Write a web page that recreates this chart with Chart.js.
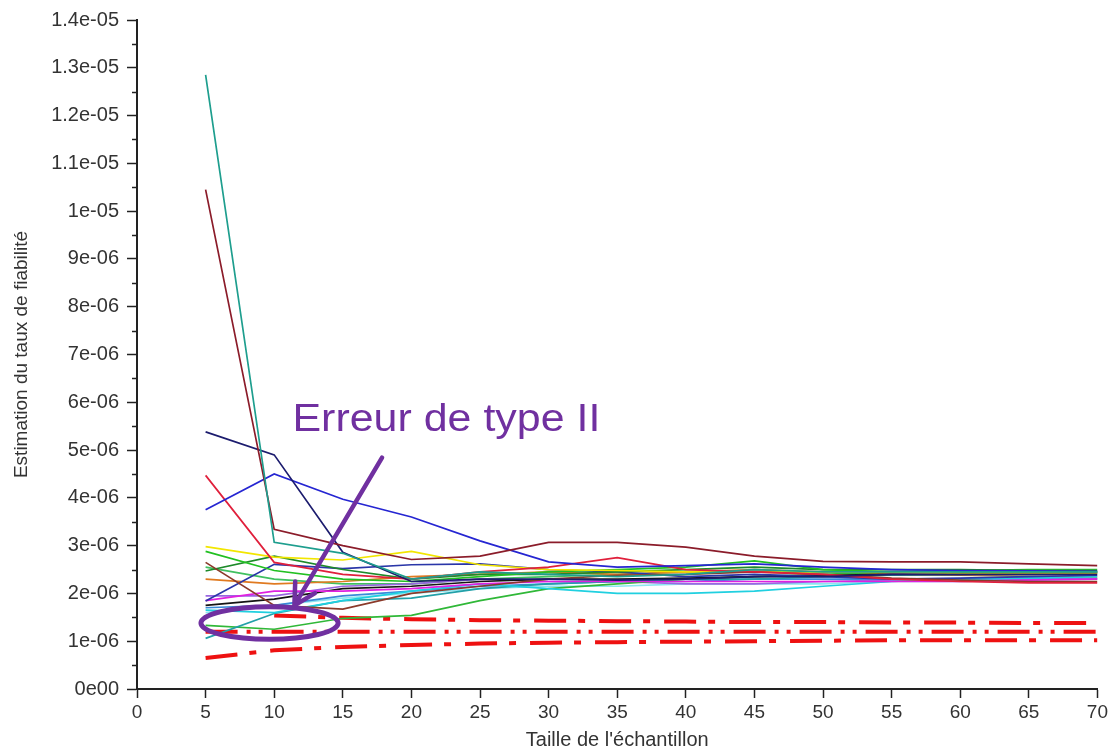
<!DOCTYPE html>
<html>
<head>
<meta charset="utf-8">
<title>Estimation du taux de fiabilité</title>
<script src="https://cdn.jsdelivr.net/npm/chart.js@4"></script>
<style>
  html, body { margin: 0; padding: 0; background: #fff; }
  #wrap { width: 1111px; height: 752px; }
</style>
</head>
<body>
<div id="wrap"><canvas id="chart"></canvas></div>
<script>
// sample sizes on the x axis
const sampleSizes = [5, 10, 15, 20, 25, 30, 35, 40, 45, 50, 55, 60, 65, 70];

// estimates, in units of 1e-06
const s01 = [12.85, 3.07, 2.84, 2.30, 2.45, 2.40, 2.35, 2.40, 2.50, 2.45, 2.45, 2.45, 2.45, 2.45];
const s02 = [10.45, 3.34, 3.00, 2.71, 2.78, 3.07, 3.07, 2.97, 2.78, 2.67, 2.66, 2.66, 2.62, 2.58];
const s03 = [5.38, 4.90, 2.86, 2.25, 2.30, 2.30, 2.28, 2.30, 2.35, 2.35, 2.40, 2.40, 2.40, 2.40];
const s04 = [3.75, 4.50, 3.97, 3.60, 3.10, 2.66, 2.55, 2.58, 2.62, 2.55, 2.50, 2.48, 2.47, 2.46];
const s05 = [4.47, 2.65, 2.40, 2.30, 2.45, 2.55, 2.75, 2.50, 2.45, 2.40, 2.30, 2.25, 2.22, 2.22];
const s06 = [2.65, 1.75, 1.67, 2.00, 2.15, 2.30, 2.38, 2.40, 2.45, 2.40, 2.32, 2.28, 2.25, 2.25];
const s07 = [2.98, 2.76, 2.70, 2.88, 2.60, 2.50, 2.48, 2.45, 2.45, 2.45, 2.45, 2.42, 2.42, 2.42];
const s08 = [2.88, 2.48, 2.30, 2.25, 2.35, 2.45, 2.50, 2.55, 2.68, 2.50, 2.45, 2.45, 2.45, 2.45];
const s09 = [2.47, 2.78, 2.50, 2.30, 2.40, 2.40, 2.45, 2.50, 2.55, 2.50, 2.50, 2.50, 2.48, 2.48];
const s10 = [1.84, 2.61, 2.52, 2.60, 2.62, 2.50, 2.45, 2.35, 2.40, 2.35, 2.30, 2.32, 2.35, 2.38];
const s11 = [1.85, 2.05, 2.05, 2.10, 2.20, 2.25, 2.25, 2.25, 2.25, 2.25, 2.25, 2.25, 2.28, 2.30];
const s12 = [1.75, 1.88, 2.10, 2.15, 2.25, 2.30, 2.30, 2.32, 2.35, 2.38, 2.40, 2.40, 2.42, 2.44];
const s13 = [1.65, 1.60, 1.85, 2.05, 2.20, 2.10, 2.00, 2.00, 2.05, 2.15, 2.25, 2.30, 2.32, 2.35];
const s14 = [1.06, 1.58, 1.85, 1.90, 2.10, 2.20, 2.25, 2.30, 2.30, 2.35, 2.38, 2.40, 2.40, 2.42];
const s15 = [1.33, 1.25, 1.48, 1.54, 1.85, 2.10, 2.20, 2.30, 2.35, 2.40, 2.45, 2.48, 2.50, 2.50];
const s16 = [2.30, 2.20, 2.25, 2.35, 2.40, 2.45, 2.40, 2.45, 2.50, 2.45, 2.40, 2.38, 2.36, 2.35];
const s17 = [1.95, 1.95, 2.15, 2.20, 2.30, 2.25, 2.25, 2.20, 2.20, 2.25, 2.28, 2.30, 2.30, 2.30];
const s18 = [1.70, 1.75, 1.95, 2.05, 2.15, 2.20, 2.25, 2.25, 2.30, 2.30, 2.30, 2.30, 2.32, 2.32];
const s19 = [1.60, 1.75, 1.90, 2.00, 2.10, 2.15, 2.15, 2.20, 2.20, 2.20, 2.25, 2.25, 2.28, 2.30];
const s20 = [2.55, 2.30, 2.20, 2.20, 2.30, 2.35, 2.40, 2.45, 2.45, 2.45, 2.45, 2.45, 2.45, 2.45];

// reference band (red dash-dot lines)
const bandUpper = [null, 1.54, 1.49, 1.46, 1.44, 1.43, 1.42, 1.41, 1.40, 1.40, 1.39, 1.39, 1.38, 1.38];
const bandMid   = [1.20, 1.20, 1.20, 1.20, 1.20, 1.20, 1.20, 1.20, 1.20, 1.20, 1.20, 1.20, 1.20, 1.20];
const bandLower = [0.65, 0.81, 0.88, 0.92, 0.95, 0.97, 0.98, 0.99, 1.00, 1.01, 1.02, 1.02, 1.02, 1.02];

const yTickLabels = ['0e00', '1e-06', '2e-06', '3e-06', '4e-06', '5e-06', '6e-06', '7e-06',
  '8e-06', '9e-06', '1e-05', '1.1e-05', '1.2e-05', '1.3e-05', '1.4e-05'];
const xTickLabels = ['0', '5', '10', '15', '20', '25', '30', '35', '40', '45', '50', '55', '60', '65', '70'];

const runs = [
  [s01, '#1e9e8e'], [s02, '#8b1c2a'], [s03, '#1c1c6e'], [s04, '#2626d2'],
  [s05, '#e0203c'], [s06, '#8b3a2a'], [s07, '#f2e600'], [s08, '#22c022'],
  [s09, '#1e8a2a'], [s10, '#2a36a8'], [s11, '#e020e0'], [s12, '#151515'],
  [s13, '#20d0e0'], [s14, '#22a0a8'], [s15, '#30b838'], [s16, '#e07a20'],
  [s17, '#9a66e0'], [s18, '#3a8ad8'], [s19, '#8ce6f0'], [s20, '#40c060']
];

const toPoints = arr => sampleSizes.map((x, i) => ({ x: x, y: arr[i] }));

const datasets = runs.map(r => ({
  data: toPoints(r[0]),
  borderColor: r[1],
  borderWidth: 1.7,
  pointRadius: 0,
  tension: 0,
  fill: false
}));

const red = '#ee1111';
datasets.push(
  { data: toPoints(bandUpper), borderColor: red, borderWidth: 4, borderDash: [32, 12, 7, 14], pointRadius: 0, spanGaps: false },
  { data: toPoints(bandMid), borderColor: red, borderWidth: 4, borderDash: [32, 9, 4, 8, 4, 9], pointRadius: 0 },
  { data: toPoints(bandLower), borderColor: red, borderWidth: 4, borderDash: [32, 12, 7, 14], pointRadius: 0 }
);

const purple = '#7030a0';

// annotation: ellipse, arrow and caption, placed in data coordinates
const annotate = {
  id: 'annotate',
  afterDatasetsDraw(chart) {
    const { ctx, scales: { x, y } } = chart;
    ctx.save();
    ctx.strokeStyle = purple;
    ctx.fillStyle = purple;
    ctx.lineWidth = 5;

    // ellipse
    const cx = x.getPixelForValue(9.66), cy = y.getPixelForValue(1.38);
    const rx = x.getPixelForValue(9.66 + 5.0) - cx;
    const ry = cy - y.getPixelForValue(1.38 + 0.34);
    ctx.beginPath();
    ctx.ellipse(cx, cy, rx, ry, 0, 0, Math.PI * 2);
    ctx.stroke();

    // arrow
    const x0 = x.getPixelForValue(17.86), y0 = y.getPixelForValue(4.84);
    const x1 = x.getPixelForValue(11.47), y1 = y.getPixelForValue(1.75);
    ctx.lineWidth = 4.5;
    ctx.lineCap = 'round';
    ctx.beginPath();
    ctx.moveTo(x0, y0);
    ctx.lineTo(x1, y1);
    const ang = Math.atan2(y1 - y0, x1 - x0);
    const head = 24, spread = 0.5;
    ctx.moveTo(x1 - head * Math.cos(ang - spread), y1 - head * Math.sin(ang - spread));
    ctx.lineTo(x1, y1);
    ctx.lineTo(x1 - head * Math.cos(ang + spread), y1 - head * Math.sin(ang + spread));
    ctx.stroke();

    // caption
    ctx.font = '38px "Liberation Sans", Arial, sans-serif';
    ctx.textBaseline = 'alphabetic';
    ctx.translate(x.getPixelForValue(11.33), y.getPixelForValue(5.40));
    ctx.scale(1.13, 1);
    ctx.fillText('Erreur de type II', 0, 0);
    ctx.restore();
  }
};

// half-step minor ticks on the y axis
const minorTicks = {
  id: 'minorTicks',
  afterDraw(chart) {
    const { ctx, scales: { y } } = chart;
    ctx.save();
    ctx.strokeStyle = '#222';
    ctx.lineWidth = 1.5;
    for (let v = 0.5; v < 14; v += 1) {
      const py = Math.round(y.getPixelForValue(v)) + 0.5;
      ctx.beginPath();
      ctx.moveTo(y.right - 5, py);
      ctx.lineTo(y.right, py);
      ctx.stroke();
    }
    ctx.restore();
  }
};

const family = '"Liberation Sans", Arial, sans-serif';

new Chart(document.getElementById('chart'), {
  type: 'line',
  data: { datasets: datasets },
  options: {
    responsive: true,
    maintainAspectRatio: false,
    animation: false,
    layout: { padding: { top: 18, right: 10, left: 0, bottom: 0 } },
    plugins: { legend: { display: false }, tooltip: { enabled: false } },
    scales: {
      x: {
        type: 'linear',
        min: 0,
        max: 70,
        afterFit(scale) { scale.height = 63; },
        border: { display: true, color: '#222', width: 2 },
        grid: { display: true, drawOnChartArea: false, tickLength: 9, tickColor: '#222', tickWidth: 1.5 },
        ticks: {
          stepSize: 5,
          color: '#333',
          font: { family: family, size: 19 },
          padding: 3,
          maxRotation: 0,
          callback: (value) => xTickLabels[Math.round(value / 5)]
        },
        title: {
          display: true,
          text: "Taille de l'échantillon",
          color: '#333',
          font: { family: family, size: 20 },
          padding: { top: 0, bottom: 0 }
        }
      },
      y: {
        min: 0,
        max: 14,
        afterFit(scale) { scale.width = 137; },
        border: { display: true, color: '#222', width: 2 },
        grid: { display: true, drawOnChartArea: false, tickLength: 10, tickColor: '#222', tickWidth: 1.5 },
        ticks: {
          stepSize: 1,
          color: '#333',
          font: { family: family, size: 20 },
          padding: 8,
          callback: (value) => yTickLabels[Math.round(value)]
        },
        title: {
          display: true,
          text: 'Estimation du taux de fiabilité',
          color: '#333',
          font: { family: family, size: 19 },
          padding: { top: 10, bottom: 0 }
        }
      }
    }
  },
  plugins: [annotate, minorTicks]
});
</script>
</body>
</html>
